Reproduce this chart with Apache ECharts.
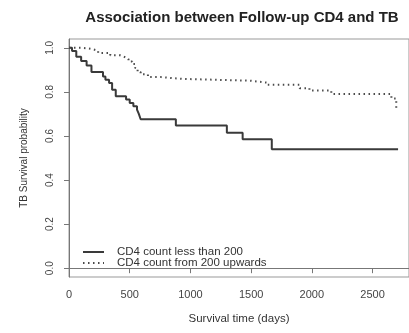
<!DOCTYPE html>
<html>
<head>
<meta charset="utf-8">
<script src="https://cdn.jsdelivr.net/npm/echarts@6/dist/echarts.min.js"></script>
<style>
  html, body { margin: 0; padding: 0; background: #fff; }
  #main { width: 409px; height: 333px; }
</style>
</head>
<body>
<div id="main"></div>
<script>
// Kaplan-Meier steps (days, survival)
var timesLow = [0, 25, 60, 100, 145, 185, 280, 300, 330, 355, 385, 470, 500, 530, 560, 575, 590, 880, 1300, 1430, 1670, 2710];
var survLow = [1.0, 0.985, 0.96, 0.94, 0.92, 0.89, 0.87, 0.855, 0.84, 0.81, 0.78, 0.765, 0.75, 0.735, 0.72, 0.70, 0.676, 0.647, 0.615, 0.585, 0.54, 0.54];

var timesHigh = [0, 100, 160, 200, 240, 340, 420, 460, 490, 520, 545, 565, 590, 650, 760, 930, 1490, 1630, 1900, 1980, 2160, 2655, 2695];
var survHigh = [1.0, 0.997, 0.993, 0.987, 0.977, 0.966, 0.958, 0.949, 0.938, 0.927, 0.908, 0.89, 0.88, 0.867, 0.859, 0.851, 0.842, 0.832, 0.817, 0.806, 0.79, 0.77, 0.72];

var seriesNames = ['CD4 count less than 200', 'CD4 count from 200 upwards'];
var xTicks = [0, 500, 1000, 1500, 2000, 2500];
var yTicks = [0, 0.2, 0.4, 0.6, 0.8, 1.0];

function pairs(t, s) {
    var out = [];
    for (var i = 0; i < t.length; i++) out.push([t[i], s[i]]);
    return out;
}

var myChart = echarts.init(document.getElementById('main'));
myChart.setOption({
    animation: false,
    title: {
        text: 'Association between Follow-up CD4 and TB',
        left: 237,
        textAlign: 'center',
        top: 5,
        textStyle: { fontFamily: 'Liberation Sans', fontSize: 15, fontWeight: 'bold', color: '#222' }
    },
    legend: {
        orient: 'vertical',
        left: 77,
        top: 241,
        itemWidth: 21,
        itemHeight: 8,
        itemGap: -1,
        data: seriesNames,
        itemStyle: { opacity: 0 },
        textStyle: {
            fontFamily: 'Liberation Sans', fontSize: 11.5, color: '#333', lineHeight: 10,
            padding: [0, 0, 0, 8]
        }
    },
    grid: {
        left: 69, top: 39, width: 340.5, height: 238,
        show: true, borderColor: '#999', borderWidth: 1
    },
    xAxis: {
        type: 'value',
        min: 0, max: 2800,
        name: 'Survival time (days)',
        nameLocation: 'middle',
        nameGap: 36,
        nameTextStyle: { fontFamily: 'Liberation Sans', fontSize: 11.5, color: '#333' },
        axisLine: { lineStyle: { color: '#777' } },
        axisTick: { length: 5, customValues: xTicks, lineStyle: { color: '#777' } },
        axisLabel: {
            customValues: xTicks, margin: 12,
            fontFamily: 'Liberation Sans', fontSize: 11, color: '#444',
            formatter: function (v) { return String(v); }
        },
        splitLine: { show: false }
    },
    yAxis: {
        type: 'value',
        min: -0.04, max: 1.04,
        name: 'TB Survival probability',
        nameLocation: 'middle',
        nameGap: 40,
        nameTextStyle: { fontFamily: 'Liberation Sans', fontSize: 10, color: '#333' },
        axisLine: { show: true, lineStyle: { color: '#777' } },
        axisTick: { show: true, length: 5, customValues: yTicks, lineStyle: { color: '#777' } },
        axisLabel: {
            customValues: yTicks, rotate: 90, margin: 14,
            fontFamily: 'Liberation Sans', fontSize: 10, color: '#444',
            formatter: function (v) { return v.toFixed(1); }
        },
        splitLine: { show: false }
    },
    series: [
        {
            name: seriesNames[0],
            type: 'line',
            step: 'end',
            symbol: 'none',
            data: pairs(timesLow, survLow),
            lineStyle: { color: '#3a3a3a', width: 2 },
            itemStyle: { color: '#3a3a3a' }
        },
        {
            name: seriesNames[1],
            type: 'line',
            step: 'end',
            symbol: 'none',
            data: pairs(timesHigh, survHigh),
            lineStyle: { color: '#4a4a4a', width: 2, type: [1.5, 3.5], cap: 'butt' },
            itemStyle: { color: '#4a4a4a' }
        }
    ]
});
</script>
</body>
</html>
